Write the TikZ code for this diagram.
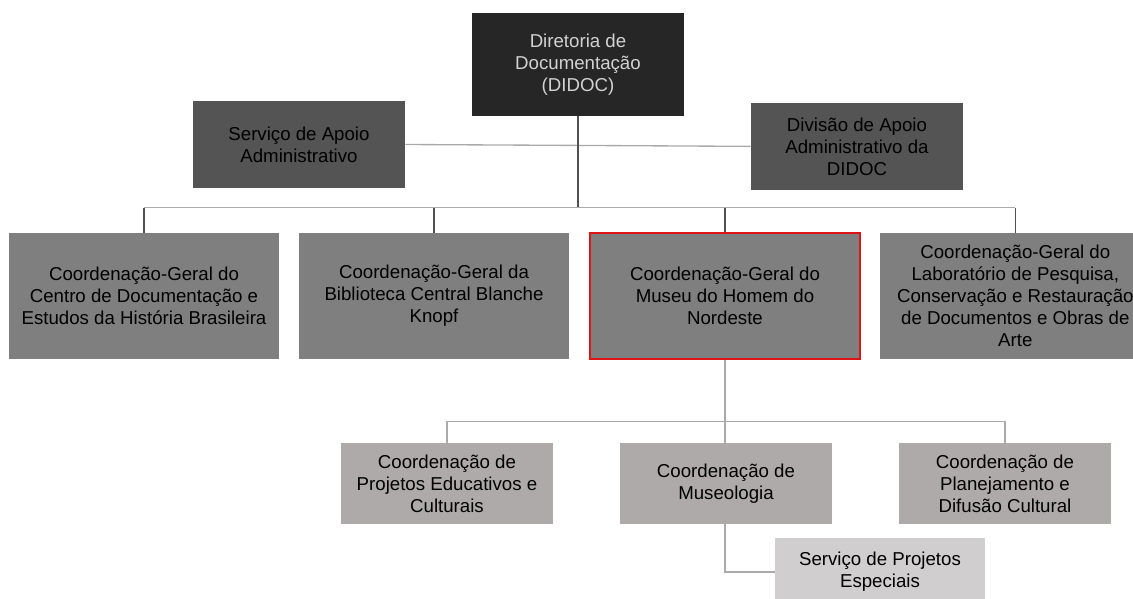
\documentclass[tikz,border=0pt]{standalone}
\usepackage{fontspec}
\setmainfont{Liberation Sans}

\definecolor{topfill}{RGB}{38,38,38}
\definecolor{toptext}{RGB}{210,210,210}
\definecolor{sidefill}{RGB}{84,84,84}
\definecolor{geralfill}{RGB}{127,127,127}
\definecolor{coordfill}{RGB}{174,170,170}
\definecolor{servfill}{RGB}{208,206,206}
\definecolor{darkline}{RGB}{80,80,80}
\definecolor{lightline}{RGB}{170,170,170}
\definecolor{museured}{RGB}{220,20,20}

\begin{document}
\begin{tikzpicture}[font=\fontsize{14}{16.5}\selectfont]
    % Define styles for boxes and lines
    \tikzstyle{topbox} = [rectangle, fill=topfill, text=toptext, align=center, inner sep=0pt, minimum width=159pt, minimum height=77.25pt]
    \tikzstyle{sidebox} = [rectangle, fill=sidefill, align=center, inner sep=0pt, minimum width=159pt, minimum height=65.25pt]
    \tikzstyle{geralbox} = [rectangle, fill=geralfill, align=center, inner sep=0pt, minimum width=202.5pt, minimum height=94.5pt]
    \tikzstyle{coordbox} = [rectangle, fill=coordfill, align=center, inner sep=0pt, minimum width=159pt, minimum height=60.75pt]
    \tikzstyle{servbox} = [rectangle, fill=servfill, align=center, inner sep=0pt, minimum width=157.5pt, minimum height=51pt]
    \tikzstyle{dline} = [draw=darkline, line width=1pt]
    \tikzstyle{lline} = [draw=lightline, line width=1pt]

    \useasboundingbox (-433.5pt,48.375pt) rectangle (416.25pt,-400.875pt);

    % Nodes
    \node (didoc) [topbox] at (0,0) {Diretoria de\\Documentação\\(DIDOC)};
    \node (apoio) [sidebox, xshift=-209.25pt, yshift=-60pt] at (didoc) {Serviço de Apoio\\Administrativo};
    \node (divisao) [sidebox, xshift=209.25pt, yshift=-61.4pt] at (didoc) {Divisão de Apoio\\Administrativo da\\DIDOC};

    \node (cgcd) [geralbox, xshift=-325.5pt, yshift=-173.6pt] at (didoc) {Coordenação-Geral do\\Centro de Documentação e\\Estudos da História Brasileira};
    \node (cgbib) [geralbox, xshift=-108pt, yshift=-173.6pt] at (didoc) {Coordenação-Geral da\\Biblioteca Central Blanche\\Knopf};
    \node (cgmuseu) [geralbox, draw=museured, line width=2pt, xshift=110.25pt, yshift=-173.6pt] at (didoc) {Coordenação-Geral do\\Museu do Homem do\\Nordeste};
    \node (cglab) [geralbox, xshift=328pt, yshift=-173.6pt] at (didoc) {Coordenação-Geral do\\Laboratório de Pesquisa,\\Conservação e Restauração\\de Documentos e Obras de\\Arte};

    \node (coedu) [coordbox, xshift=-98.25pt, yshift=-314.25pt] at (didoc) {Coordenação de\\Projetos Educativos e\\Culturais};
    \node (comus) [coordbox, xshift=111pt, yshift=-314.25pt] at (didoc) {Coordenação de\\Museologia};
    \node (coplan) [coordbox, xshift=320.25pt, yshift=-314.25pt] at (didoc) {Coordenação de\\Planejamento e\\Difusão Cultural};

    \node (sproj) [servbox, xshift=226.5pt, yshift=-380.6pt] at (didoc) {Serviço de Projetos\\Especiais};

    \coordinate (topbus) at ([yshift=18pt]cgmuseu.north);
    \coordinate (midbus) at ([yshift=16pt]comus.north);

    % Lines
    \draw [lline] (apoio.east) -- (divisao.west);
    \draw [dline] (didoc.south) -- (didoc.south |- topbus);
    \draw [lline] (cgcd.north |- topbus) -- (cglab.north |- topbus);
    \foreach \n in {cgcd, cgbib, cgmuseu, cglab}
        \draw [dline] (\n.north) -- (\n.north |- topbus);

    \draw [lline] (cgmuseu.south) -- (cgmuseu.south |- comus.north);
    \draw [lline] (coedu.north |- midbus) -- (coplan.north |- midbus);
    \foreach \n in {coedu, coplan}
        \draw [lline] (\n.north) -- (\n.north |- midbus);
    \draw [lline] (cgmuseu.south |- comus.south) |- (sproj.west);

\end{tikzpicture}
\end{document}
